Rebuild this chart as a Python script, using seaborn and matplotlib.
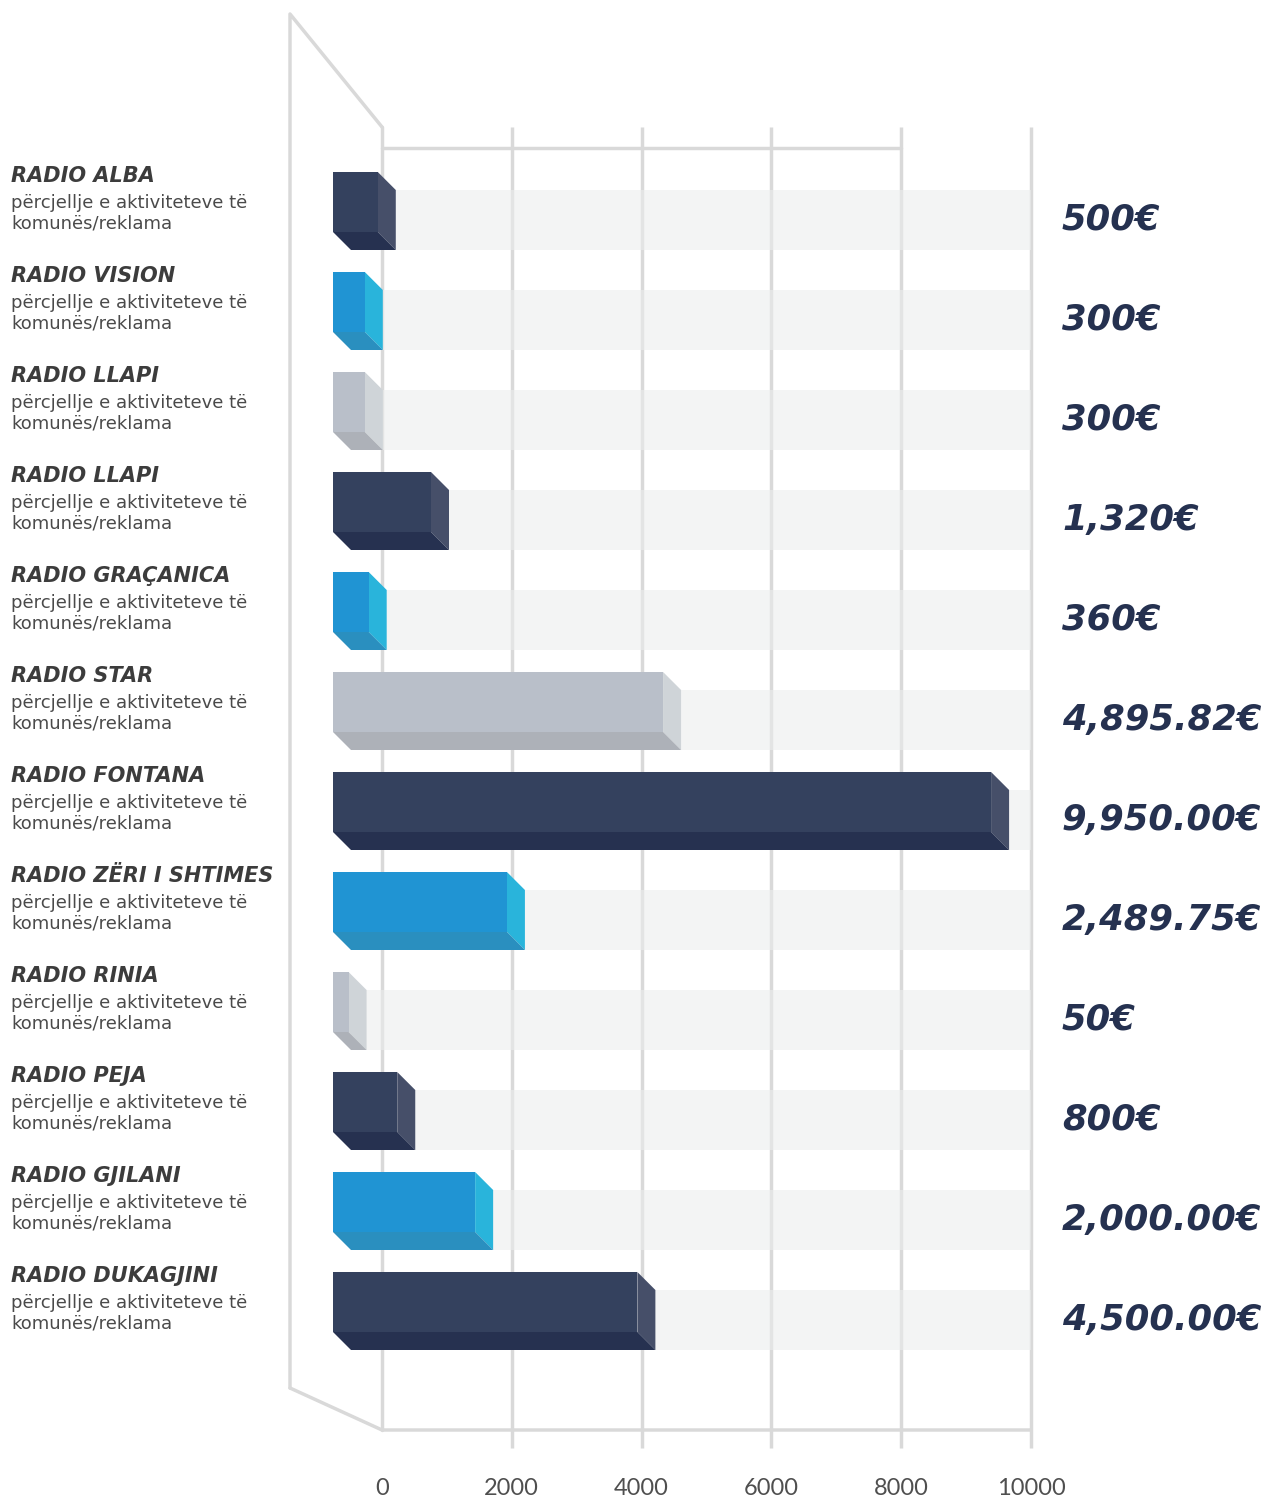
# 3D-style horizontal bar infographic - radio spending
import numpy as np
import pandas as pd
import seaborn as sns
import matplotlib.pyplot as plt
from matplotlib.patches import Polygon

# # # # # Data # # # # #
stations = ["RADIO ALBA", "RADIO VISION", "RADIO LLAPI", "RADIO LLAPI", "RADIO GRAÇANICA",
            "RADIO STAR", "RADIO FONTANA", "RADIO ZËRI I SHTIMES", "RADIO RINIA", "RADIO PEJA",
            "RADIO GJILANI", "RADIO DUKAGJINI"]
amounts = [500, 300, 300, 1320, 360, 4895.82, 9950.00, 2489.75, 50, 800, 2000.00, 4500.00]
amount_labels = ["500€", "300€", "300€", "1,320€", "360€", "4,895.82€", "9,950.00€",
                 "2,489.75€", "50€", "800€", "2,000.00€", "4,500.00€"]
subtitle = "përcjellje e aktiviteteve të\nkomunës/reklama"
x_ticks = [0, 2000, 4000, 6000, 8000, 10000]
shade = ["navy", "blue", "grey", "navy", "blue", "grey", "navy", "blue", "grey", "navy", "blue", "navy"]

# colours for each face of the boxes: front, side, bottom
faces = {"navy": ("#34415e", "#464f69", "#263150"),
         "blue": ("#2094d3", "#29b4db", "#2a8fbf"),
         "grey": ("#b9bfc9", "#cfd4d8", "#adb1b8")}
line_col = "#d9d9d9"

# # # # # Geometry (pixels -> data) # # # # #
W, H = 1266, 1501
px_per_unit = 0.0649      # horizontal pixels per euro
zero_px = 382             # pixel where the 0 tick sits
row_px = 100              # pixels between rows
row0_px = 202             # centre of the first front face
bar_start = -755          # bars begin a bit left of zero
pad = 190                 # minimum visible length
dx = 18 / px_per_unit     # box depth in x
dy = 18 / row_px          # box depth in y
bar_h = 0.6


def X(px):
    return (px - zero_px) / px_per_unit


def Y(py):
    return (py - row0_px) / row_px


sns.set_theme(style="white")
fig = plt.figure(figsize=(W / 100, H / 100), dpi=100)
ax = fig.add_axes([0, 0, 1, 1])

df = pd.DataFrame({"row": np.arange(len(stations)), "length": np.array(amounts) + pad,
                   "key": [str(i) for i in range(len(stations))]})
palette = {str(i): faces[s][0] for i, s in enumerate(shade)}

# # # # # Frame and grid # # # # #
top, bottom = Y(127), Y(1430)
for t in x_ticks[1:]:
    ax.plot([t, t], [top, Y(1448)], color=line_col, lw=2.5, zorder=1, solid_capstyle="butt")
ax.plot([0, 0], [top, bottom], color=line_col, lw=2.5, zorder=1)
ax.plot([X(290), X(290), 0], [Y(1388), Y(14), top], color=line_col, lw=2.5, zorder=1)
ax.plot([X(290), 0, x_ticks[-1]], [Y(1388), bottom, bottom], color=line_col, lw=2.5, zorder=1)
ax.plot([0, x_ticks[-2]], [Y(148), Y(148)], color=line_col, lw=2.5, zorder=1)

# background tracks
for i in range(len(stations)):
    ax.add_patch(plt.Rectangle((bar_start + dx, i - bar_h / 2 + dy), x_ticks[-1] - bar_start - dx, bar_h,
                               facecolor="#ebeded", alpha=0.6, edgecolor="none", zorder=2))

# front faces
sns.barplot(data=df, x="length", y="row", hue="key", palette=palette, orient="y", native_scale=True,
            dodge=False, width=bar_h, left=bar_start, legend=False, ax=ax, zorder=4, linewidth=0,
            saturation=1)

# side and bottom faces
for i, (length, s) in enumerate(zip(df["length"], shade)):
    xe = bar_start + length
    y0, y1 = i - bar_h / 2, i + bar_h / 2
    side = [(xe, y0), (xe + dx, y0 + dy), (xe + dx, y1 + dy), (xe, y1)]
    base = [(bar_start, y1), (xe, y1), (xe + dx, y1 + dy), (bar_start + dx, y1 + dy)]
    ax.add_patch(Polygon(side, closed=True, facecolor=faces[s][1], edgecolor="none", zorder=3))
    ax.add_patch(Polygon(base, closed=True, facecolor=faces[s][2], edgecolor="none", zorder=3))

# # # # # Text # # # # #
for i, name in enumerate(stations):
    ax.text(X(11), i - 26 / row_px, name, fontsize=15, fontweight="bold", fontstyle="italic",
            color="#3c3c3c", va="center", ha="left")
    ax.text(X(11), i + 11 / row_px, subtitle, fontsize=13, color="#4a4a4a", va="center", ha="left",
            linespacing=1.18)
    ax.text(X(1062), i + dy, amount_labels[i], fontsize=25.5, fontweight="heavy", fontstyle="italic",
            color="#253150", va="center", ha="left")

for t in x_ticks:
    ax.text(t, Y(1489), str(t), fontsize=17, family="Lato", color="#4f4f4f",
            ha="center", va="center")

ax.set_xlim(X(0), X(W))
ax.set_ylim(Y(H), Y(0))
ax.axis("off")

plt.savefig("out.png", dpi=100)
